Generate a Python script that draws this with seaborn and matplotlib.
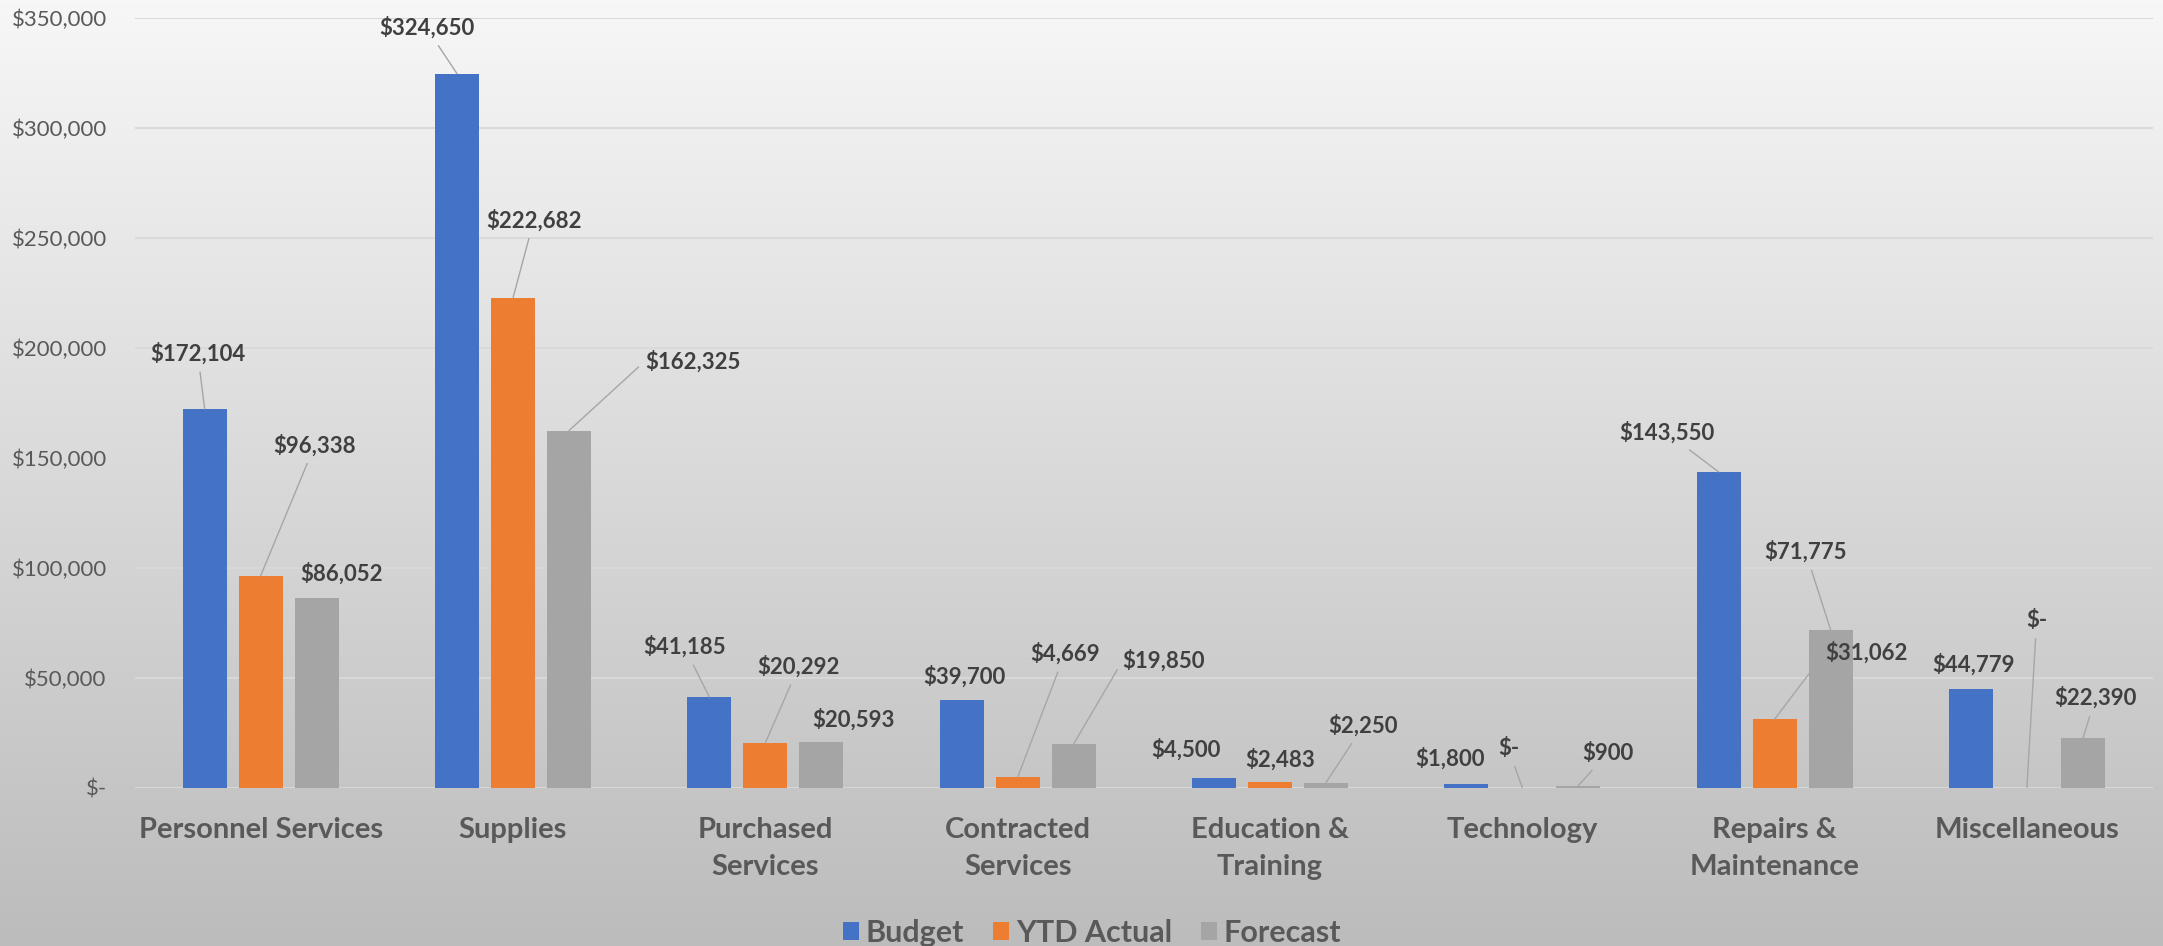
import numpy as np
import pandas as pd
import matplotlib
matplotlib.use('Agg')
import matplotlib.pyplot as plt
import seaborn as sns

# data
categories = ['Personnel Services', 'Supplies', 'Purchased Services', 'Contracted Services',
              'Education & Training', 'Technology', 'Repairs & Maintenance', 'Miscellaneous']
tick_labels = ['Personnel Services', 'Supplies', 'Purchased\nServices', 'Contracted\nServices',
               'Education &\nTraining', 'Technology', 'Repairs &\nMaintenance', 'Miscellaneous']
series = ['Budget', 'YTD Actual', 'Forecast']
budget = [172104, 324650, 41185, 39700, 4500, 1800, 143550, 44779]
ytd_actual = [96338, 222682, 20292, 4669, 2483, 0, 31062, 0]
forecast = [86052, 162325, 20593, 19850, 2250, 900, 71775, 22390]

# label placement (offset in points from bar top), and whether a leader line shows
label_offsets = {
    'Budget': [(-5, 40), (-22, 33), (-18, 36), (2, 17), (-20, 20), (-12, 18), (-37, 28), (2, 18)],
    'YTD Actual': [(39, 94), (15, 56), (24, 55), (34, 89), (7, 16), (-10, 28), (66, 48), (7, 120)],
    'Forecast': [(18, 18), (89, 50), (23, 16), (65, 60), (27, 41), (21, 23), (-18, 56), (9, 29)],
}
leaders = {
    'Budget': [1, 1, 1, 0, 0, 0, 1, 0],
    'YTD Actual': [1, 1, 1, 1, 0, 1, 2, 1],
    'Forecast': [0, 2, 0, 2, 1, 1, 1, 1],
}
colors = ['#4472C4', '#ED7D31', '#A5A5A5']

df = pd.DataFrame({
    'Category': categories * 3,
    'Series': np.repeat(series, len(categories)),
    'Amount': budget + ytd_actual + forecast,
})

sns.set_style('white')
plt.rcParams['font.family'] = ['Lato', 'DejaVu Sans']

fig = plt.figure(figsize=(21.63, 9.46), dpi=100)

# gradient background, light at the top and grey at the bottom
bg = fig.add_axes([0, 0, 1, 1], zorder=-10)
shade = np.linspace(247, 188, 256)[:, None] / 255.0
bg.imshow(np.dstack([shade, shade, shade]), aspect='auto', extent=(0, 1, 0, 1))
bg.set_axis_off()

ax = fig.add_axes([0.0622, 0.1675, 0.9332, 0.8136])
ax.patch.set_alpha(0)
sns.barplot(data=df, x='Category', y='Amount', hue='Series', palette=colors,
            width=0.666, gap=0.215, saturation=1, linewidth=0, errorbar=None, ax=ax)

ax.set_ylim(0, 350000)
ax.set_yticks(range(0, 350001, 50000))
ax.set_yticklabels(['$-' if v == 0 else '${:,.0f}'.format(v) for v in range(0, 350001, 50000)])
ax.set_xticks(range(len(categories)))
ax.set_xticklabels(tick_labels, fontweight='bold', linespacing=1.55)
ax.tick_params(axis='y', labelsize=16, labelcolor='#595959', length=0, pad=20)
ax.tick_params(axis='x', labelsize=21, labelcolor='#595959', length=0, pad=21)
ax.set_xlabel('')
ax.set_ylabel('')
ax.yaxis.grid(True, color='#d9d9d9', lw=1.4)
ax.set_axisbelow(True)
for s in ax.spines.values():
    s.set_visible(False)

for name, cont in zip(series, ax.containers):
    for i, bar in enumerate(cont.patches):
        h = bar.get_height()
        txt = '$-' if h == 0 else '${:,.0f}'.format(h)
        dx, dy = label_offsets[name][i]
        kind = leaders[name][i]
        arrow = None
        if kind:
            arrow = dict(arrowstyle='-', color='#a6a6a6', lw=1.0, shrinkA=3, shrinkB=0,
                         relpos=(0, 0.5) if kind == 2 else (0.5, 0.5))
        ax.annotate(txt, xy=(bar.get_x() + bar.get_width() / 2, h),
                    xytext=(dx, dy), textcoords='offset points',
                    ha='center', va='center', fontsize=16, fontweight='bold',
                    color='#404040', arrowprops=arrow)

handles, labels = ax.get_legend_handles_labels()
ax.legend(handles, labels, loc='center', bbox_to_anchor=(0.505, 0.014),
          bbox_transform=fig.transFigure, ncol=3, frameon=False,
          prop={'size': 22, 'weight': 'bold'}, labelcolor='#595959',
          handlelength=0.52, handleheight=0.52, handletextpad=0.22, columnspacing=0.95)

fig.savefig('out.png', dpi=100)
